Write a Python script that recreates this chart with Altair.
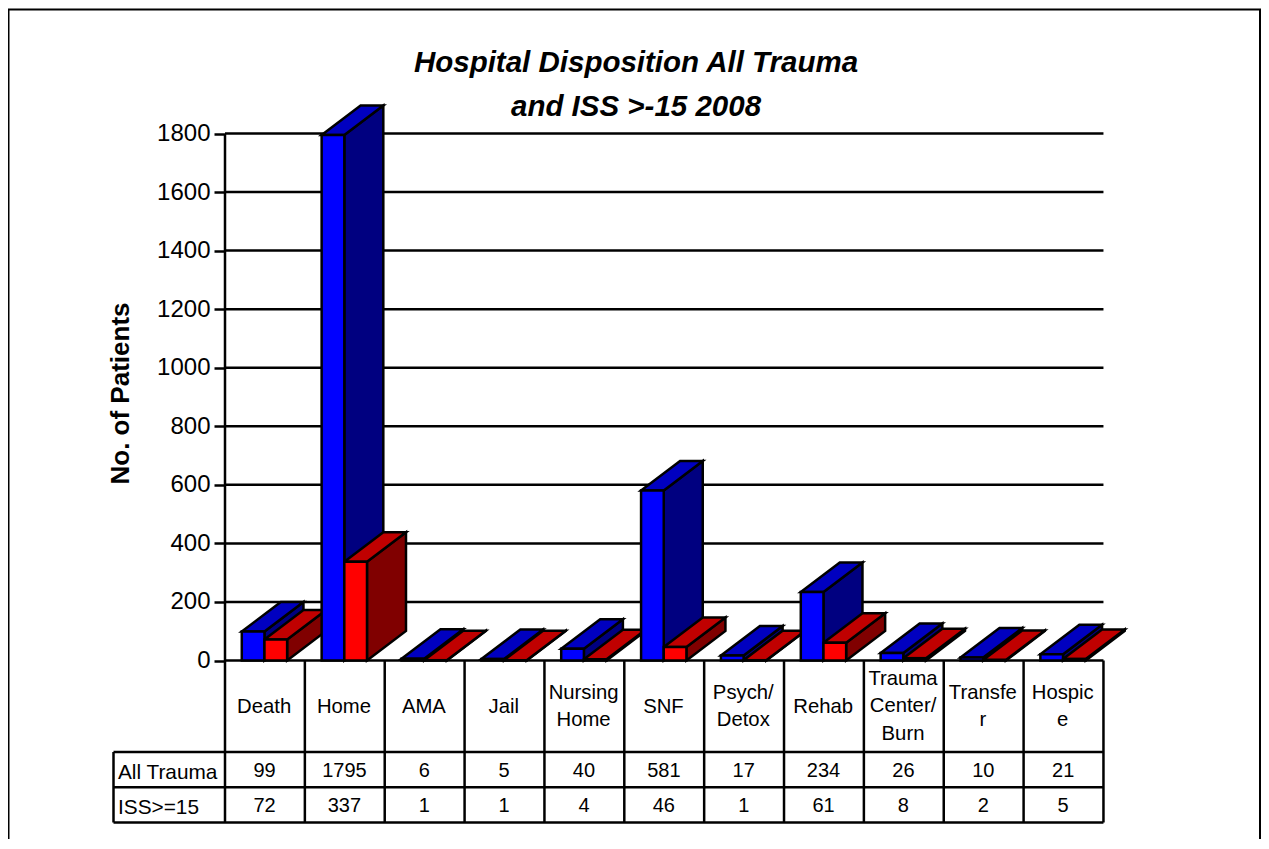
import altair as alt
import pandas as pd

FONT = "Liberation Sans"
categories = ["Death", "Home", "AMA", "Jail", "Nursing\nHome", "SNF", "Psych/\nDetox",
              "Rehab", "Trauma\nCenter/\nBurn", "Transfe\nr", "Hospic\ne"]
all_trauma = [99, 1795, 6, 5, 40, 581, 17, 234, 26, 10, 21]
iss15 = [72, 337, 1, 1, 4, 46, 1, 61, 8, 2, 5]
y_ticks = [0, 200, 400, 600, 800, 1000, 1200, 1400, 1600, 1800]

# page geometry
W, H = 1253, 831
OX, OY = 8, 8
X0, SLOT = 225.0, 79.86
Y0, K = 660.5, 527.0 / 1800

xpx = lambda px: (px - X0) / SLOT
ypx = lambda py: (Y0 - py) / K
xs = alt.Scale(domain=[xpx(OX), xpx(OX + W)], nice=False, zero=False)
ys = alt.Scale(domain=[ypx(OY + H), ypx(OY)], nice=False, zero=False)
y_axis = alt.Axis(
    values=y_ticks, domain=False, grid=False, offset=-(X0 - OX), format="d",
    tickSize=11, tickWidth=2.5, tickColor="black", labelPadding=4,
    labelFont=FONT, labelFontSize=24, labelColor="black",
    title="No. of Patients", titleFont=FONT, titleFontSize=26, titleFontWeight="bold",
    titleColor="black", titleAnchor="middle", titleAngle=270, titleAlign="center",
    titleBaseline="middle", titleX=-105, titleY=385,
)
X = lambda f="x": alt.X(f"{f}:Q", scale=xs, axis=None)
Y = lambda f="y": alt.Y(f"{f}:Q", scale=ys, axis=y_axis, stack=None)

DX, DY = 39.0 / SLOT, 29.5 / K
BAR = 0.284
STARTS = {"blue": 0.21, "red": 0.21 + BAR}
SW = 2.5

side, top, front = [], [], []
for name, vals in (("blue", all_trauma), ("red", iss15)):
    for i, v in enumerate(vals):
        a = i + STARTS[name]
        b = a + BAR
        key = f"{name}{i}"
        front.append(dict(s=name, x=a, x2=b, y=0, y2=v))
        for t in (0, 1):
            side.append(dict(s=name, k=key, x=b + t * DX, y=v + t * DY, y2=t * DY))
            top.append(dict(s=name, k=key, x=a + t * DX, x2=b + t * DX, y=v + t * DY))
side, top, front = map(pd.DataFrame, (side, top, front))


def side_layer(name, color):
    return alt.Chart(side[side.s == name]).mark_area(
        orient="vertical", color=color, stroke="black", strokeWidth=SW, strokeJoin="miter"
    ).encode(x=X(), y=Y(), y2="y2:Q", detail="k:N")


def top_layer(name, color):
    return alt.Chart(top[top.s == name]).mark_area(
        orient="horizontal", color=color, stroke="black", strokeWidth=SW, strokeJoin="miter"
    ).encode(x=X(), x2="x2:Q", y=Y(), detail="k:N")


def front_layer(name, color):
    return alt.Chart(front[front.s == name]).mark_rect(
        color=color, stroke="black", strokeWidth=SW
    ).encode(x=X(), x2="x2:Q", y=Y(), y2="y2:Q")


# gridlines
grid = alt.Chart(pd.DataFrame({"y": y_ticks, "x": [0] * 10, "x2": [11] * 10})).mark_rule(
    color="black", strokeWidth=SW
).encode(x=X(), x2="x2:Q", y=Y())

# table lines
left_x = xpx(113.5)
row_lines = [752, 787.3, 822.5]
hl = pd.DataFrame({"x": [left_x] * 3, "x2": [11] * 3, "y": [ypx(p) for p in row_lines]})
hlines = alt.Chart(hl).mark_rule(color="black", strokeWidth=SW).encode(x=X(), x2="x2:Q", y=Y())
vl = pd.DataFrame({"x": list(range(12)), "y": [ypx(134)] + [0] * 11,
                   "y2": [ypx(822.5)] * 12})
vlines = alt.Chart(vl).mark_rule(color="black", strokeWidth=SW).encode(x=X(), y=Y(), y2="y2:Q")
left = alt.Chart(pd.DataFrame({"x": [left_x], "y": [ypx(752)], "y2": [ypx(822.5)]})).mark_rule(
    color="black", strokeWidth=SW).encode(x=X(), y=Y(), y2="y2:Q")

# table text: first line is placed so that the block is centred in its cell
cat_text = alt.Chart(pd.DataFrame({
    "x": [i + 0.49 for i in range(11)],
    "y": [ypx(706.5 - 14 * c.count("\n")) for c in categories],
    "t": categories})).mark_text(
    font=FONT, fontSize=20.3, color="black", align="center", baseline="middle",
    lineBreak="\n", lineHeight=27.5,
).encode(x=X(), y=Y(), text="t:N")

val_df = pd.DataFrame(
    [dict(x=i + 0.495, y=ypx(771), t=str(v)) for i, v in enumerate(all_trauma)]
    + [dict(x=i + 0.495, y=ypx(806), t=str(v)) for i, v in enumerate(iss15)]
)
val_text = alt.Chart(val_df).mark_text(
    font=FONT, fontSize=20, color="black", align="center", baseline="middle"
).encode(x=X(), y=Y(), text="t:N")
row_text = alt.Chart(pd.DataFrame({"x": [xpx(118)] * 2, "y": [ypx(772.5), ypx(807.5)],
                                   "t": ["All Trauma", "ISS>=15"]})).mark_text(
    font=FONT, fontSize=20.8, color="black", align="left", baseline="middle"
).encode(x=X(), y=Y(), text="t:N")

# page frame
frame_left = alt.Chart(pd.DataFrame({"a": [0]})).mark_rule(color="black", strokeWidth=2).encode(
    x=alt.value(0.5), y=alt.value(1.5), y2=alt.value(H))
frame_right = alt.Chart(pd.DataFrame({"a": [0]})).mark_rule(color="black", strokeWidth=2).encode(
    x=alt.value(W - 1), y=alt.value(1.5), y2=alt.value(H))
frame_top = alt.Chart(pd.DataFrame({"a": [0]})).mark_rule(color="black", strokeWidth=2).encode(
    x=alt.value(0), x2=alt.value(W), y=alt.value(1.5))

chart = alt.layer(
    frame_left, frame_right, frame_top,
    grid, hlines, vlines, left,
    side_layer("blue", "#000080"), top_layer("blue", "#0000C0"),
    side_layer("red", "#800000"), top_layer("red", "#C00000"),
    front_layer("blue", "#0000FF"), front_layer("red", "#FF0000"),
    cat_text, val_text, row_text,
).properties(
    width=W, height=H, padding=0, autosize=alt.AutoSizeParams(type="none"),
    title=alt.TitleParams(
        ["Hospital Disposition All Trauma", "and ISS >-15 2008"],
        font=FONT, fontSize=29.5, fontWeight="bold", fontStyle="italic", color="black",
        anchor="start", align="center", dx=629, dy=132, lineHeight=44, baseline="middle",
    ),
).configure_view(stroke=None)

chart.save("out.html", embed_options={"renderer": "svg", "actions": False})
